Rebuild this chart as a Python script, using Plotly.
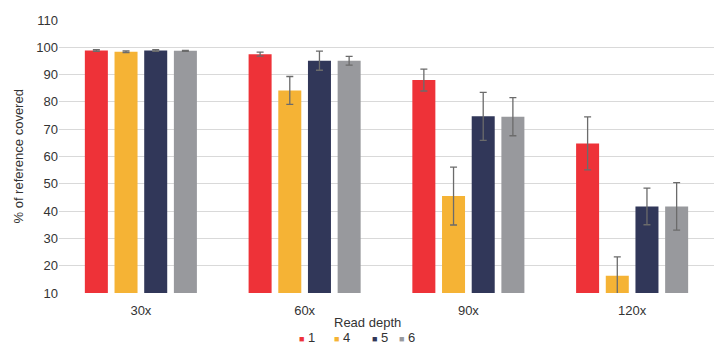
import plotly.graph_objects as go

categories = ["30x", "60x", "90x", "120x"]
series_names = ["1", "4", "5", "6"]
values_1 = [98.8, 97.5, 88.0, 64.8]
values_4 = [98.4, 84.2, 45.5, 16.3]
values_5 = [98.8, 95.1, 74.7, 41.7]
values_6 = [98.7, 95.1, 74.6, 41.7]
err_1 = [0.3, 0.7, 4.0, 9.7]
err_4 = [0.3, 5.1, 10.6, 6.9]
err_5 = [0.3, 3.5, 8.8, 6.7]
err_6 = [0.2, 1.6, 7.0, 8.7]
colors = ["#EE3238", "#F5B335", "#313759", "#98999D"]

all_values = [values_1, values_4, values_5, values_6]
all_errs = [err_1, err_4, err_5, err_6]

# legend entry text start positions (px in the 715 wide page)
legend_text_px = [299, 334, 372, 399]

W, H = 715, 348
L, R, T, B = 59, 1, 20, 55
PW, PH = W - L - R, H - T - B
font_family = "Liberation Sans, Arial, sans-serif"
fig = go.Figure()
for name, vals, errs, col in zip(series_names, all_values, all_errs, colors):
    fig.add_trace(go.Bar(
        x=categories, y=vals, name=name, marker_color=col,
        marker_line_width=0, showlegend=False,
        error_y=dict(type="data", array=errs, visible=True,
                     color="#6b6b6b", thickness=1.3, width=3.5),
    ))

legend_layouts = {}
for i, (name, col, px) in enumerate(zip(series_names, colors, legend_text_px)):
    lname = "legend" if i == 0 else f"legend{i + 1}"
    fig.add_trace(go.Scatter(
        x=[None], y=[None], mode="markers", legend=lname,
        name=f"<span style='color:{col};font-size:9px'>■</span> {name}",
        marker=dict(symbol="square", size=1, color="rgba(0,0,0,0)"),
    ))
    legend_layouts[lname] = dict(
        xref="container", yref="container",
        x=(px - 40) / W, xanchor="left",
        y=1 - 336.5 / H, yanchor="middle",
        bgcolor="rgba(0,0,0,0)", borderwidth=0,
        font=dict(size=13, color="#333333"),
        itemwidth=30,
    )

fig.update_layout(
    width=W, height=H,
    margin=dict(l=L, r=R, t=T, b=B, autoexpand=False),
    paper_bgcolor="white", plot_bgcolor="white",
    barmode="group", bargap=0.275, bargroupgap=0.225,
    font=dict(family=font_family, size=13, color="#333333"),
    xaxis=dict(showgrid=False, showline=False, ticks="",
               ticklabelstandoff=8),
    yaxis=dict(range=[10, 110], dtick=10, showgrid=True,
               gridcolor="#d9d9d9", gridwidth=1, zeroline=False,
               showline=False, ticks=""),
    annotations=[
        dict(text="Read depth", xref="paper", yref="paper",
             x=(367 - L) / PW, y=-(322.5 - (T + PH)) / PH,
             xanchor="center", yanchor="middle", showarrow=False,
             font=dict(size=13, color="#333333")),
        dict(text="% of reference covered", xref="paper", yref="paper",
             x=(18 - L) / PW, y=0.5, textangle=-90,
             xanchor="center", yanchor="middle", showarrow=False,
             font=dict(size=13, color="#333333")),
    ],
    **legend_layouts,
)
fig.write_html("out.html", config={"displayModeBar": False},
               post_script="document.body.style.margin='0';")
